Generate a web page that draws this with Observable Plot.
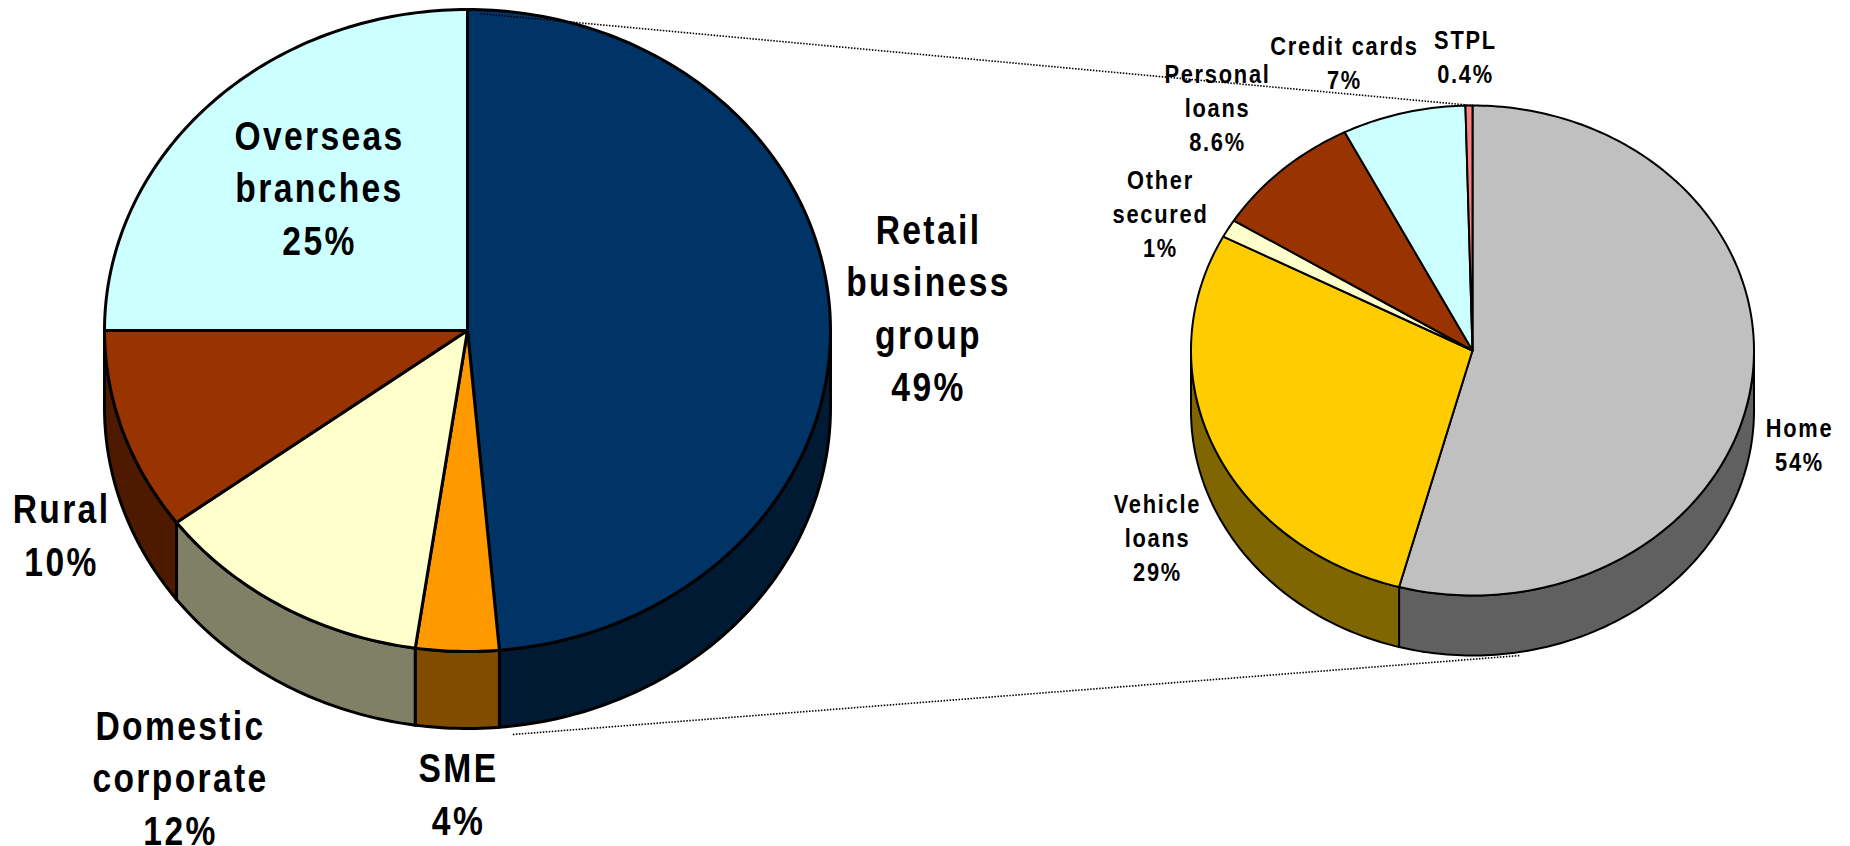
<!DOCTYPE html>
<html>
<head>
<meta charset="utf-8">
<script src="https://cdn.jsdelivr.net/npm/d3@7"></script>
<script src="https://cdn.jsdelivr.net/npm/@observablehq/plot@0.6"></script>
<style>
  html, body { margin: 0; padding: 0; background: #fff; overflow: hidden; }
  svg { display: block; }
</style>
</head>
<body>
<div id="chart"></div>
<script>
// ---- values ----
const loanCategories = ["Retail business group", "SME", "Domestic corporate", "Rural", "Overseas branches"];
const loanShares = [48.6, 3.7, 12.5, 10.2, 25];
const loanLabels = ["Retail\nbusiness\ngroup\n49%", "SME\n4%", "Domestic\ncorporate\n12%", "Rural\n10%", "Overseas\nbranches\n25%"];

const retailCategories = ["Home", "Vehicle loans", "Other secured", "Personal loans", "Credit cards", "STPL"];
const retailShares = [54.2, 28.5, 1.2, 8.6, 7.1, 0.4];
const retailLabels = ["Home\n54%", "Vehicle\nloans\n29%", "Other\nsecured\n1%", "Personal\nloans\n8.6%", "Credit cards\n7%", "STPL\n0.4%"];

// ---- styling and layout, separate from the values ----
const loanColors = ["#003366", "#FF9900", "#FFFFCC", "#993300", "#CCFFFF"];
const loanSides = ["#001A33", "#804D00", "#808066", "#4D1A00", "#668080"];
const retailColors = ["#C0C0C0", "#FFCC00", "#FFFFCC", "#993300", "#CCFFFF", "#FF8080"];
const retailSides = ["#606060", "#806600", "#808066", "#4D1A00", "#668080", "#804040"];

const loanPie = {cx: 467, cy: 330, rx: 363, ry: 321, depth: 77, stroke: 3, font: 41, lead: 1.28, squeeze: 0.82, tracking: "0.07em"};
const retailPie = {cx: 1472, cy: 350, rx: 281.5, ry: 245, depth: 60, stroke: 2, font: 26, lead: 1.31, squeeze: 0.84, tracking: "0.08em"};

const loanLabelX = [928, 458, 180, 61, 319];
const loanLabelY = [305, 791, 775, 532, 185];
const retailLabelX = [1799, 1157, 1160, 1217, 1344, 1465];
const retailLabelY = [443, 536, 212, 106, 61, 55];

// ---- geometry from the shares ----
const deg = Math.PI / 180;
function rimPoint(p, t, drop = 0) {
  return {x: p.cx + p.rx * Math.sin(t * deg), y: p.cy - p.ry * Math.cos(t * deg) + drop};
}
function arcAngles(a0, a1) {
  const n = Math.max(2, Math.ceil((a1 - a0) / 1));
  return d3.range(n + 1).map(i => a0 + (a1 - a0) * i / n);
}
function sliceAngles(shares) {
  let sum = 0;
  return shares.map(v => { const a0 = sum * 3.6; sum += v; return [a0, sum * 3.6]; });
}
function pieMarks(p, shares, colors, sides) {
  const angles = sliceAngles(shares);
  const closed = (pts, fill) => Plot.line(pts, {
    x: "x", y: "y", fill, stroke: "black", strokeWidth: p.stroke,
    curve: "linear-closed", strokeLinejoin: "round"
  });
  const walls = [];
  angles.forEach(([a0, a1], i) => {
    const lo = Math.max(a0, 90), hi = Math.min(a1, 270);
    if (hi <= lo) return;
    const ts = arcAngles(lo, hi);
    const pts = [...ts.map(t => rimPoint(p, t)), ...ts.slice().reverse().map(t => rimPoint(p, t, p.depth))];
    walls.push(closed(pts, sides[i]));
  });
  const tops = angles.map(([a0, a1], i) => {
    const pts = [{x: p.cx, y: p.cy}, ...arcAngles(a0, a1).map(t => rimPoint(p, t))];
    return closed(pts, colors[i]);
  });
  return [...walls, ...tops];
}
function labelMark(p, labels, xs, ys) {
  return Plot.text(labels, {
    x: (d, i) => xs[i], y: (d, i) => ys[i], text: d => d,
    fontFamily: "'Liberation Sans', Arial, sans-serif",
    fontWeight: "bold", fontSize: p.font, lineHeight: p.lead,
    fill: "black", textAnchor: "middle",
    // the reference's face is a tall, narrow, widely tracked bold
    render(index, scales, values, dimensions, context, next) {
      const g = next(index, scales, values, dimensions, context);
      d3.select(g).selectAll("text")
        .attr("transform", function () { return `${this.getAttribute("transform") || ""} scale(${p.squeeze},1)`; })
        .style("letter-spacing", p.tracking);
      return g;
    }
  });
}
// dotted guides joining the retail wedge to the small pie
const guideTop = [
  {x: loanPie.cx + 0.036 * loanPie.rx, y: loanPie.cy - 0.987 * loanPie.ry},
  {x: retailPie.cx, y: retailPie.cy - retailPie.ry}
];
const guideBottom = [
  {x: loanPie.cx + 0.125 * loanPie.rx, y: loanPie.cy + loanPie.ry + loanPie.depth + 6},
  {x: retailPie.cx + 0.17 * retailPie.rx, y: retailPie.cy + retailPie.ry + retailPie.depth}
];
const guide = pts => Plot.line(pts, {
  x: "x", y: "y", stroke: "black", strokeWidth: 1.6, strokeDasharray: "1.5,1.5", strokeLinecap: "butt"
});

const chart = Plot.plot({
  width: 1850, height: 846,
  margin: 0,
  x: {domain: [0, 1850], range: [0, 1850], axis: null},
  y: {domain: [0, 846], range: [0, 846], axis: null},
  marks: [
    ...pieMarks(loanPie, loanShares, loanColors, loanSides),
    ...pieMarks(retailPie, retailShares, retailColors, retailSides),
    guide(guideTop),
    guide(guideBottom),
    labelMark(loanPie, loanLabels, loanLabelX, loanLabelY),
    labelMark(retailPie, retailLabels, retailLabelX, retailLabelY)
  ]
});
document.getElementById("chart").appendChild(chart);
</script>
</body>
</html>
